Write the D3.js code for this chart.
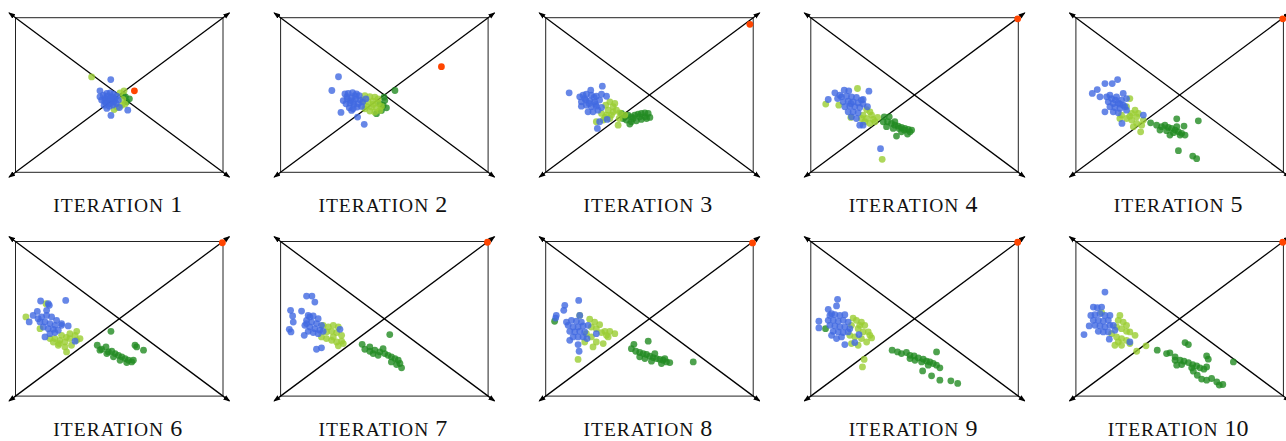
<!DOCTYPE html>
<html><head><meta charset="utf-8">
<script src="https://cdn.jsdelivr.net/npm/d3@7"></script>
<style>html,body{margin:0;padding:0;background:#fff;}svg{display:block;}</style>
</head><body>
<svg id="chart" width="1286" height="441"></svg>
<script>
// ---- data (panel coordinates in percent of the frame: x 0..100 left→right, y 0..100 bottom→top) ----
const iterations = [1,2,3,4,5,6,7,8,9,10];
const labelWord = "ITERATION";

const blue1 = [[45.9,60.0],[40.7,52.7],[46.0,36.8],[54.1,40.2],[44.0,41.3],[50.1,41.9],[42.3,49.9],[44.0,51.0],[45.6,51.4],[47.2,50.5],[48.8,49.2],[43.1,47.7],[44.8,47.1],[46.4,46.7],[48.0,47.5],[41.5,46.7],[43.6,44.9],[45.6,44.5],[47.5,45.6],[49.6,46.7],[42.7,43.4],[45.2,42.8],[40.7,48.8],[46.9,48.8],[44.3,49.2],[48.5,44.5],[46.0,48.0],[43.0,46.0],[47.0,43.5]];
const lime1 = [[36.7,61.7],[52.3,52.7],[50.4,51.4],[47.5,40.6],[52.8,44.1],[51.7,47.1],[51.2,43.4],[49.1,41.9]];
const green1 = [[54.9,47.5],[53.6,45.6],[53.0,48.8],[52.0,49.9]];
const red1 = [[57.3,52.7]];

const blue2 = [[27.9,61.8],[24.7,52.9],[29.1,38.7],[37.1,35.7],[40.3,31.0],[34.2,40.0],[31.0,50.7],[32.6,51.1],[34.7,51.6],[36.6,50.7],[30.2,46.4],[32.1,47.5],[34.2,48.1],[36.3,47.5],[38.2,46.9],[31.5,44.3],[33.4,44.7],[35.3,43.9],[37.4,44.3],[39.5,45.4],[33.1,41.7],[35.0,41.1],[36.9,42.2],[39.0,42.6],[41.1,47.5],[35.8,49.6],[33.7,46.4],[37.9,49.6],[35.0,45.5],[32.0,49.0]];
const lime2 = [[40.6,49.6],[43.0,49.0],[45.4,48.6],[47.0,47.5],[39.8,46.4],[42.2,45.4],[44.6,46.0],[47.0,44.7],[41.4,42.6],[43.8,42.2],[46.2,41.7],[48.6,42.6],[43.0,39.6],[45.4,38.9],[47.8,40.0],[40.6,41.1],[44.6,43.9]];
const green2 = [[55.1,52.9],[50.2,46.4],[51.0,41.7],[49.4,43.2],[48.6,40.0],[46.2,37.9],[47.8,44.3],[49.8,48.6]];
const red2 = [[77.5,68.3]];

const blue3 = [[11.3,51.4],[27.3,55.7],[21.7,53.1],[26.0,32.7],[24.9,28.4],[29.6,34.2],[16.4,48.8],[18.0,49.9],[19.6,50.5],[22.0,49.9],[24.4,49.2],[26.9,50.5],[29.3,49.2],[17.2,45.6],[19.3,46.7],[21.2,46.2],[23.6,45.6],[26.0,46.7],[17.2,42.8],[19.6,43.4],[22.0,42.4],[24.4,42.8],[26.9,41.9],[20.4,39.1],[22.8,39.1],[25.2,40.2],[18.8,47.7],[23.3,48.4],[20.9,44.5],[24.0,44.0]];
const lime3 = [[30.9,45.6],[32.5,42.4],[28.9,43.4],[34.1,40.2],[35.7,38.5],[26.9,38.1],[29.3,37.0],[31.7,37.0],[24.4,32.7],[27.7,33.8],[30.9,34.8],[34.9,30.5],[35.4,34.8],[38.1,37.0],[33.3,44.5],[30.1,40.2],[32.5,39.0],[28.5,35.5]];
const green3 = [[36.5,38.1],[38.1,35.9],[39.7,37.0],[41.3,35.9],[42.9,37.0],[44.5,37.6],[46.1,38.1],[47.8,38.5],[49.4,38.1],[50.2,35.5],[38.9,33.8],[41.3,32.7],[43.7,33.3],[46.1,34.2],[48.6,34.8],[42.1,34.8],[45.3,35.9],[47.8,35.9],[40.5,31.2],[37.3,34.8]];
const red3 = [[98.4,95.7]];

const blue4 = [[8.4,47.1],[11.6,51.4],[16.1,53.1],[18.3,52.7],[28.0,52.5],[33.6,15.3],[23.6,30.5],[25.2,30.5],[27.3,42.4],[25.2,47.1],[14.8,48.8],[17.2,49.2],[19.6,48.8],[22.0,48.4],[24.4,46.7],[15.6,45.6],[18.0,46.0],[20.4,45.6],[22.8,44.9],[25.2,44.1],[16.4,42.4],[18.8,42.8],[21.2,42.4],[23.6,41.9],[18.0,39.1],[20.4,39.1],[22.8,38.5],[19.6,35.9],[22.0,34.8],[14.0,49.9],[12.9,47.7],[19.3,44.5]];
const lime4 = [[7.2,44.1],[13.5,43.4],[22.5,54.2],[19.3,35.5],[26.9,40.6],[28.5,39.1],[29.3,37.0],[25.2,37.0],[24.4,34.8],[26.9,34.8],[30.1,34.2],[28.5,31.6],[26.0,32.7],[34.4,8.4],[30.9,32.7],[32.2,35.5]];
const green4 = [[35.4,35.9],[37.8,35.9],[37.0,32.7],[38.9,31.6],[40.5,30.5],[42.1,29.9],[43.7,29.0],[45.3,28.4],[47.0,27.7],[48.6,27.3],[36.5,29.5],[39.7,28.4],[41.3,23.4],[43.7,26.2],[46.6,24.7],[42.5,28.4],[45.0,27.3],[47.8,26.2],[34.9,32.7],[40.5,32.7]];
const red4 = [[99.7,99.3]];

const blue5 = [[7.9,51.0],[10.3,53.5],[14.0,57.4],[17.5,57.4],[20.1,60.0],[11.6,48.8],[14.0,39.1],[22.2,31.6],[32.5,37.0],[24.4,47.7],[22.8,51.0],[14.8,48.8],[17.2,47.7],[19.6,48.8],[22.0,46.7],[15.6,45.6],[18.0,44.5],[20.4,44.9],[22.8,43.4],[16.4,42.4],[18.8,41.9],[21.2,41.3],[23.6,42.4],[18.0,39.1],[20.4,38.5],[16.4,49.9],[19.0,46.7],[21.2,44.1],[24.4,40.2]];
const lime5 = [[26.0,47.7],[24.4,42.4],[28.5,40.2],[26.9,38.1],[29.3,35.9],[22.0,37.0],[24.4,34.8],[26.9,33.8],[29.3,31.6],[31.7,30.5],[27.7,29.5],[31.2,26.2],[21.2,34.8],[26.0,36.3],[30.1,38.1],[32.5,33.8]];
const green5 = [[36.0,32.0],[38.9,30.5],[41.3,29.5],[42.9,30.5],[44.5,29.0],[46.1,28.4],[47.8,27.3],[49.4,26.2],[51.0,25.2],[52.6,24.1],[40.5,27.3],[43.7,26.9],[47.0,25.6],[48.6,29.5],[48.6,34.6],[52.1,29.9],[59.0,33.3],[49.4,14.0],[56.3,10.5],[58.2,8.8],[45.3,24.1],[50.2,24.1]];
const red5 = [[99.7,99.3]];

const blue6 = [[12.1,61.5],[24.2,61.9],[15.8,59.8],[6.6,48.0],[8.5,52.2],[10.5,54.8],[14.2,38.3],[28.7,35.5],[25.4,45.4],[22.2,45.8],[12.6,51.2],[15.0,52.2],[17.4,51.2],[19.8,49.0],[22.2,46.9],[11.8,48.0],[14.2,48.0],[16.6,46.9],[19.0,45.8],[13.4,44.7],[15.8,43.6],[18.2,43.2],[20.6,42.6],[16.6,40.4],[19.0,41.1],[15.0,55.5],[16.3,58.7],[10.9,50.1]];
const lime6 = [[5.0,51.2],[11.8,43.6],[14.7,59.8],[16.6,37.2],[19.0,37.2],[21.4,36.1],[23.8,35.0],[26.2,37.2],[28.7,39.3],[31.1,37.2],[20.6,32.9],[23.8,31.8],[24.6,28.6],[27.0,32.9],[29.5,36.1],[18.2,35.0],[22.2,39.3],[26.2,40.4],[29.5,41.9],[24.5,38.0],[21.0,34.0]];
const green6 = [[39.4,32.9],[41.5,30.3],[43.6,31.8],[44.8,28.6],[46.4,29.0],[48.0,27.5],[49.6,26.4],[51.2,25.4],[52.8,24.3],[54.4,23.2],[56.0,22.1],[47.2,25.4],[50.4,23.2],[53.6,21.7],[56.8,23.2],[46.0,41.9],[57.6,32.9],[61.7,29.7],[58.4,31.8],[44.0,27.5],[40.7,29.7]];
const red6 = [[99.7,99.2]];

const blue7 = [[12.5,64.7],[15.1,64.7],[16.5,60.8],[10.1,55.0],[4.8,55.5],[5.8,51.8],[6.1,47.9],[4.2,43.2],[5.0,41.5],[17.3,30.3],[19.7,31.2],[28.6,43.2],[11.4,39.3],[13.3,52.2],[15.7,51.8],[18.1,50.1],[12.5,49.0],[14.9,47.9],[17.3,46.9],[19.7,45.8],[11.7,45.8],[14.1,44.7],[16.5,43.6],[18.9,42.6],[13.3,41.9],[15.7,41.1],[18.1,40.4],[20.5,41.9],[14.1,51.2],[12.5,46.9]];
const lime7 = [[20.5,45.8],[23.0,44.7],[25.4,45.8],[27.8,44.7],[22.1,41.5],[24.6,41.9],[27.0,41.1],[29.4,39.3],[19.7,38.3],[22.1,37.2],[24.6,36.1],[27.0,35.0],[29.4,35.5],[27.8,32.5],[30.2,34.0],[25.4,38.3]];
const green7 = [[39.3,33.5],[40.6,30.3],[43.0,29.0],[45.4,29.7],[47.8,28.6],[50.2,27.5],[51.8,26.4],[53.4,25.4],[55.1,24.3],[56.7,23.2],[57.5,21.1],[58.3,18.3],[55.9,20.4],[53.4,22.1],[49.4,30.7],[44.6,27.5],[47.0,26.4],[52.6,39.8],[43.0,31.8]];
const red7 = [[99.7,99.5]];

const blue8 = [[15.9,61.9],[9.2,58.7],[8.7,55.5],[5.1,52.2],[4.8,50.5],[11.6,36.1],[15.6,33.3],[16.1,29.0],[19.9,37.2],[24.4,40.4],[10.0,47.9],[12.4,49.0],[14.8,48.4],[17.2,47.9],[10.8,45.8],[13.2,44.7],[15.6,44.7],[18.0,45.4],[11.6,41.9],[14.0,41.5],[16.4,41.9],[18.8,41.5],[13.2,38.3],[15.6,38.3],[18.0,38.3],[16.4,52.2],[20.4,45.8]];
const lime8 = [[16.4,52.2],[21.2,49.7],[23.6,47.9],[26.0,46.2],[28.5,41.9],[30.9,41.9],[33.3,40.4],[22.0,44.7],[24.4,43.6],[26.9,41.1],[29.3,39.3],[19.6,40.4],[22.0,38.3],[24.4,35.0],[22.8,31.8],[27.7,34.0],[18.8,35.0],[15.6,23.7],[30.1,38.3]];
const green8 = [[4.3,48.4],[42.5,33.5],[41.3,30.7],[43.4,29.0],[45.3,28.2],[47.0,27.5],[48.6,26.9],[50.2,25.8],[51.8,24.9],[53.4,24.3],[55.0,23.7],[56.6,23.2],[58.2,22.1],[59.8,21.7],[49.4,35.5],[71.1,22.1],[47.8,24.3],[51.0,22.6],[55.8,21.1],[45.3,25.4],[52.6,27.5],[57.4,24.3]];
const red8 = [[99.7,99.1]];

const blue9 = [[12.9,62.6],[12.4,58.3],[8.4,56.1],[3.9,48.4],[3.9,44.1],[10.0,39.3],[12.4,37.2],[16.4,33.3],[21.2,34.6],[23.2,39.8],[9.2,52.2],[11.6,52.7],[14.0,52.2],[16.4,52.7],[8.4,49.0],[10.8,49.0],[13.2,48.4],[15.6,49.0],[18.0,47.9],[9.2,45.8],[11.6,45.4],[14.0,44.7],[16.4,44.7],[18.8,43.6],[10.8,41.9],[13.2,41.5],[15.6,41.1],[18.0,41.5],[14.8,38.3],[10.0,53.3]];
const lime9 = [[20.4,50.5],[22.0,49.0],[24.4,47.9],[26.0,45.8],[19.6,45.8],[22.8,43.6],[25.2,41.5],[27.7,41.5],[29.3,37.6],[18.8,39.3],[21.2,38.3],[24.4,37.2],[26.9,35.0],[22.8,32.9],[19.6,34.0],[25.7,23.7],[24.9,18.9],[23.6,45.8],[28.5,39.3]];
const green9 = [[7.1,43.6],[39.2,29.7],[41.8,28.6],[43.7,27.5],[46.1,28.2],[47.8,26.4],[49.8,26.0],[51.8,24.7],[54.2,23.9],[55.8,22.6],[57.4,22.1],[59.0,21.1],[60.6,20.0],[62.2,18.3],[60.6,28.6],[58.2,13.1],[62.2,10.3],[67.5,9.9],[70.8,8.2],[53.9,16.3],[53.4,22.1],[50.2,23.2],[56.6,20.0],[47.8,24.3]];
const red9 = [[99.7,99.5]];

const blue10 = [[14.0,67.3],[8.4,57.6],[10.3,57.2],[12.4,57.6],[3.9,39.8],[6.4,45.4],[16.1,36.8],[26.0,35.0],[7.2,52.2],[9.2,52.7],[11.6,53.3],[14.0,52.2],[16.4,52.2],[8.4,49.0],[10.8,49.0],[13.2,48.4],[15.6,49.0],[9.2,45.8],[11.6,45.4],[14.0,44.7],[16.4,45.8],[10.8,41.9],[13.2,41.5],[15.6,41.5],[18.0,45.8],[18.8,42.6]];
const lime10 = [[12.4,54.0],[21.2,52.2],[20.4,49.0],[22.8,47.9],[24.4,45.8],[26.0,41.5],[28.5,39.3],[19.6,44.7],[22.0,43.6],[24.4,41.9],[17.2,40.4],[19.6,38.3],[22.0,37.2],[24.4,36.1],[18.8,32.9],[22.0,32.9],[26.0,34.0],[29.3,29.0],[33.8,32.5],[20.4,35.0]];
const green10 = [[39.2,29.7],[43.7,27.5],[45.3,28.0],[47.8,25.4],[47.8,23.2],[50.2,23.2],[52.1,22.6],[54.2,21.7],[56.3,20.4],[58.2,19.6],[59.8,18.3],[61.7,17.4],[63.0,18.9],[52.6,34.6],[54.2,33.3],[63.0,26.0],[63.8,23.9],[75.9,22.1],[56.6,16.1],[58.5,13.5],[60.6,11.0],[63.0,10.3],[65.4,11.4],[67.9,9.2],[70.8,7.5],[69.1,7.1],[55.8,18.3],[51.0,20.4],[48.6,20.0]];
const red10 = [[99.7,99.5]];

const blueSets  = [blue1,blue2,blue3,blue4,blue5,blue6,blue7,blue8,blue9,blue10];
const limeSets  = [lime1,lime2,lime3,lime4,lime5,lime6,lime7,lime8,lime9,lime10];
const greenSets = [green1,green2,green3,green4,green5,green6,green7,green8,green9,green10];
const redSets   = [red1,red2,red3,red4,red5,red6,red7,red8,red9,red10];

// ---- layout ----
const svg = d3.select("#chart");
const cols = 5;
const panelW = 207.5, panelH = 154.6;
const colStep = 265.1, rowStep = 223.8;
const originX = 15.5, originY = 17.7;
const ext = 8; // arrow extension past corners

const defs = svg.append("defs");
defs.append("marker")
  .attr("id","arrow").attr("viewBox","0 -3 7 6")
  .attr("refX",6).attr("refY",0)
  .attr("markerWidth",7).attr("markerHeight",6)
  .attr("markerUnits","userSpaceOnUse")
  .attr("orient","auto-start-reverse")
  .append("path").attr("d","M0,-2.6L7,0L0,2.6Z").attr("fill","#000");

const colors = {blue:"royalblue", lime:"yellowgreen", green:"forestgreen", red:"orangered"};

iterations.forEach((it, i) => {
  const c = i % cols, r = Math.floor(i / cols);
  const x0 = originX + c * colStep, y0 = originY + r * rowStep;
  const x = d3.scaleLinear().domain([0,100]).range([x0, x0 + panelW]);
  const y = d3.scaleLinear().domain([0,100]).range([y0 + panelH, y0]);
  const g = svg.append("g");

  g.append("rect")
    .attr("x", x(0)).attr("y", y(100))
    .attr("width", x(100)-x(0)).attr("height", y(0)-y(100))
    .attr("fill","none").attr("stroke","#222").attr("stroke-width",1);

  const diag = (ax, ay, bx, by) => {
    const dx = x(bx)-x(ax), dy = y(by)-y(ay), L = Math.hypot(dx,dy);
    const ux = dx/L, uy = dy/L;
    g.append("line")
      .attr("x1", x(ax)-ux*ext).attr("y1", y(ay)-uy*ext)
      .attr("x2", x(bx)+ux*ext).attr("y2", y(by)+uy*ext)
      .attr("stroke","#000").attr("stroke-width",1.3)
      .attr("marker-start","url(#arrow)").attr("marker-end","url(#arrow)");
  };
  diag(0,100,100,0);
  diag(0,0,100,100);

  const drawPts = (pts, col, rad, op) => {
    g.selectAll(null).data(pts).enter().append("circle")
      .attr("cx", d => x(d[0])).attr("cy", d => y(d[1]))
      .attr("r", rad).attr("fill", col).attr("fill-opacity", op);
  };
  drawPts(greenSets[i], colors.green, 3.4, 0.8);
  drawPts(limeSets[i], colors.lime, 3.4, 0.8);
  drawPts(blueSets[i], colors.blue, 3.4, 0.8);
  drawPts(redSets[i], colors.red, 3.4, 1);

  const t = g.append("text")
    .attr("x", (x(0)+x(100))/2 - 1.5)
    .attr("y", y(0) + 39.5)
    .attr("text-anchor","middle")
    .attr("font-family","'Liberation Serif', 'DejaVu Serif', serif")
    .attr("fill","#111");
  t.append("tspan").attr("font-size","19.5px").attr("letter-spacing","1px").text(labelWord);
  t.append("tspan").attr("font-size","24px").text(" " + it);
});
</script>
</body></html>
